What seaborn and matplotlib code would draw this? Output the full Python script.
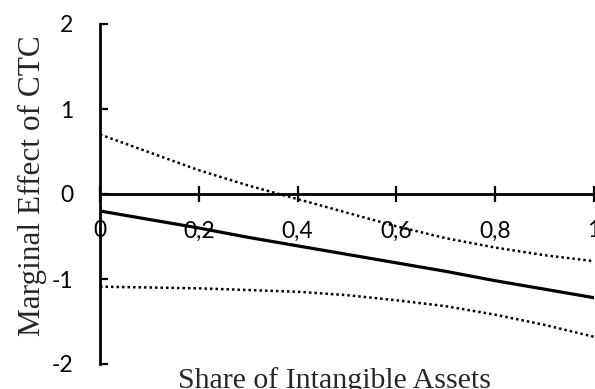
import matplotlib
matplotlib.use("Agg")
import matplotlib.pyplot as plt
import seaborn as sns
import pandas as pd

# Marginal effect of CTC across the share of intangible assets, with confidence bounds
share = [0.0, 0.1, 0.2, 0.3, 0.4, 0.5, 0.6, 0.7, 0.8, 0.9, 1.0]
effect = [-0.20, -0.30, -0.40, -0.51, -0.61, -0.71, -0.81, -0.91, -1.02, -1.12, -1.22]
upper = [0.70, 0.49, 0.28, 0.10, -0.06, -0.22, -0.38, -0.52, -0.63, -0.72, -0.79]
lower = [-1.09, -1.10, -1.11, -1.13, -1.15, -1.19, -1.25, -1.32, -1.42, -1.54, -1.68]

x_ticks = [0.0, 0.2, 0.4, 0.6, 0.8, 1.0]
x_tick_labels = ["0", "0,2", "0,4", "0,6", "0,8", "1"]
y_ticks = [-2, -1, 0, 1, 2]
y_tick_labels = ["-2", "-1", "0", "1", "2"]

df = pd.DataFrame({"share": share, "effect": effect, "upper": upper, "lower": lower})

sns.set_theme(style="white")
plt.rcParams["font.family"] = ["Lato", "DejaVu Sans"]

W, H = 595, 389
fig = plt.figure(figsize=(W / 100, H / 100), dpi=100)
ax = fig.add_axes([100 / W, 1 - 364 / H, 494 / W, 340 / H])

dotted = (0, (1, 1.2))
sns.lineplot(data=df, x="share", y="upper", ax=ax, color="black", lw=1.8, linestyle=dotted)
sns.lineplot(data=df, x="share", y="lower", ax=ax, color="black", lw=1.8, linestyle=dotted)
sns.lineplot(data=df, x="share", y="effect", ax=ax, color="black", lw=2.3)

ax.set_xlim(0, 1)
ax.set_ylim(-2, 2)

for side in ("top", "right"):
    ax.spines[side].set_visible(False)
ax.spines["left"].set_linewidth(2.0)
ax.spines["left"].set_color("black")
ax.spines["bottom"].set_position(("data", 0))
ax.spines["bottom"].set_linewidth(2.0)
ax.spines["bottom"].set_color("black")

ax.set_xticks(x_ticks)
ax.set_xticklabels(x_tick_labels)
ax.set_yticks(y_ticks)
ax.set_yticklabels(y_tick_labels)

ax.tick_params(axis="x", direction="inout", length=12, width=1.6, color="black",
               labelsize=16.5, pad=13, labelcolor="black", bottom=True)
ax.tick_params(axis="y", direction="in", length=6, width=1.6, color="black",
               labelsize=16.5, pad=19, labelcolor="black", left=True)

serif = ["Liberation Serif", "DejaVu Serif"]
ax.set_xlabel("Share of Intangible Assets", fontsize=21.5, family=serif, va="baseline")
ax.xaxis.set_label_coords((335 - 100) / 494, -24 / 340)
ax.set_ylabel("Marginal Effect of CTC", fontsize=22.5, family=serif, va="baseline")
ax.yaxis.set_label_coords(-60 / 494, (364 - 186) / 340)

ax.grid(False)
fig.savefig("out.png", dpi=100, facecolor="white")
